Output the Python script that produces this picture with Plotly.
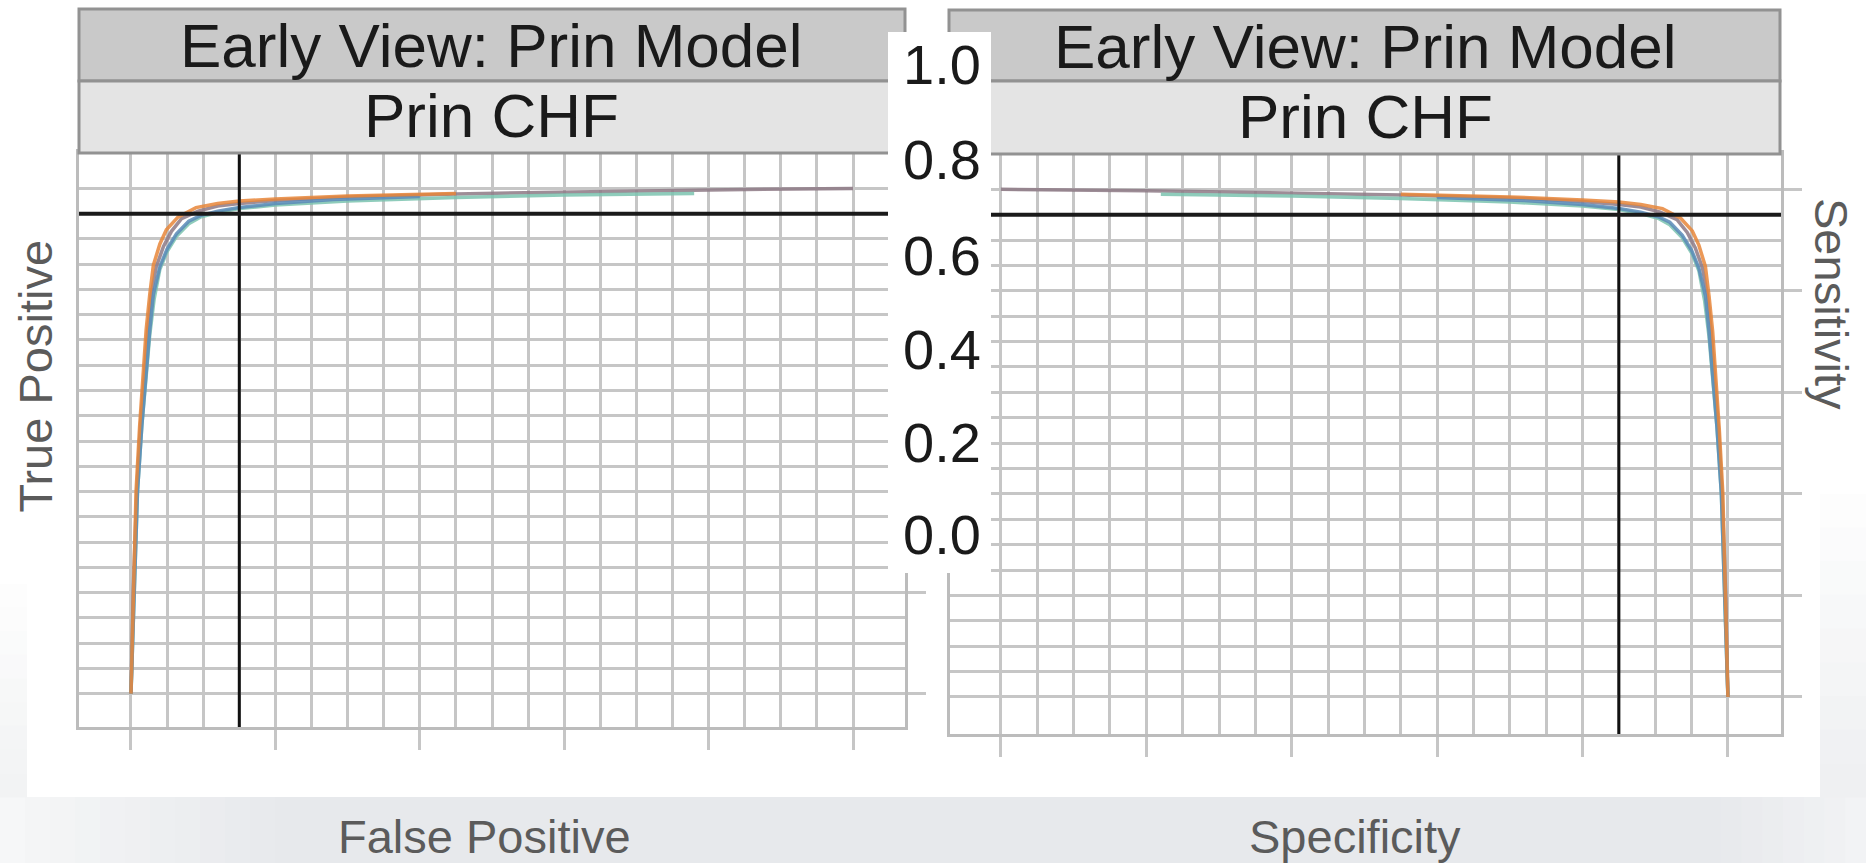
import plotly.graph_objects as go
import numpy as np

W, H = 1866, 863

# ---------------- data ----------------
strip_top = "Early View: Prin Model"
strip_bottom = "Prin CHF"
x_tick_vals = [0, 0.2, 0.4, 0.6, 0.8, 1.0]
y_tick_vals = [0, 0.2, 0.4, 0.6, 0.8, 1.0]
y_tick_labels = ["1.0", "0.8", "0.6", "0.4", "0.2", "0.0"]
cutoff_fpr = 0.15
cutoff_tpr = 0.95

model_names = ["Model D", "Model C", "Model B", "Model A"]
model_colors = ["#8e7a86", "#7cc4b0", "#5a8ab8", "#e8873a"]

fpr_d = [0, 0.003, 0.008, 0.013, 0.018, 0.023, 0.028, 0.035, 0.045, 0.056, 0.07, 0.093, 0.12, 0.15, 0.2, 0.3, 0.45, 0.6, 0.8, 1.0]
tpr_d = [0, 0.2, 0.4, 0.53, 0.62, 0.72, 0.79, 0.845, 0.885, 0.915, 0.94, 0.955, 0.965, 0.97, 0.976, 0.983, 0.989, 0.993, 0.997, 1.0]

fpr_c = [0, 0.004, 0.009, 0.015, 0.02, 0.026, 0.032, 0.04, 0.05, 0.063, 0.08, 0.096, 0.12, 0.15, 0.2, 0.3, 0.45, 0.6, 0.78]
tpr_c = [0, 0.2, 0.4, 0.53, 0.62, 0.71, 0.78, 0.84, 0.875, 0.905, 0.93, 0.943, 0.952, 0.96, 0.967, 0.975, 0.982, 0.987, 0.99]

fpr_b = [0, 0.004, 0.009, 0.015, 0.02, 0.026, 0.031, 0.04, 0.05, 0.063, 0.08, 0.096, 0.12, 0.15, 0.2, 0.28, 0.4]
tpr_b = [0, 0.2, 0.4, 0.53, 0.62, 0.72, 0.79, 0.845, 0.88, 0.91, 0.935, 0.946, 0.955, 0.962, 0.97, 0.978, 0.984]

fpr_a = [0, 0.003, 0.007, 0.012, 0.016, 0.021, 0.026, 0.031, 0.04, 0.049, 0.065, 0.09, 0.12, 0.15, 0.2, 0.3, 0.45]
tpr_a = [0, 0.2, 0.4, 0.53, 0.62, 0.72, 0.79, 0.848, 0.89, 0.918, 0.943, 0.962, 0.97, 0.975, 0.979, 0.985, 0.99]

curves = [(fpr_d, tpr_d), (fpr_c, tpr_c), (fpr_b, tpr_b), (fpr_a, tpr_a)]

# ---------------- helpers ----------------
def px(x):
    return x / W

def py(y):
    return 1 - y / H

GRID = "#c6c6c6"
minor_vals = [round(v * 0.05, 2) for v in range(21) if v % 4 != 0]

fig = go.Figure()

for (f, t), name, col in zip(curves, model_names, model_colors):
    f = np.array(f)
    t = np.array(t)
    fig.add_trace(go.Scatter(x=f, y=t, mode="lines", name=name, showlegend=False,
                             line=dict(color=col, width=3.5), opacity=0.85,
                             xaxis="x", yaxis="y"))
    fig.add_trace(go.Scatter(x=1 - f, y=t, mode="lines", name=name, showlegend=False,
                             line=dict(color=col, width=3.5), opacity=0.85,
                             xaxis="x2", yaxis="y2"))

def xax(domain, rng, anchor):
    return dict(domain=domain, range=rng, tickvals=x_tick_vals, showticklabels=False, anchor=anchor,
                ticks="outside", ticklen=20, tickwidth=3, tickcolor=GRID,
                showgrid=True, gridcolor=GRID, gridwidth=3,
                minor=dict(tickvals=minor_vals, showgrid=True, gridcolor=GRID, gridwidth=3, ticks=""),
                showline=True, linecolor="#bcbcbc", linewidth=3, mirror=True,
                zeroline=False, fixedrange=True)

def yax(domain, rng, anchor):
    return dict(domain=domain, range=rng, tickvals=y_tick_vals, showticklabels=False,
                side="right", anchor=anchor,
                ticks="outside", ticklen=18, tickwidth=3, tickcolor=GRID,
                showgrid=True, gridcolor=GRID, gridwidth=3,
                minor=dict(tickvals=minor_vals, showgrid=True, gridcolor=GRID, gridwidth=3, ticks=""),
                showline=True, linecolor="#bcbcbc", linewidth=3, mirror=True,
                zeroline=False, fixedrange=True)

shapes = []

# background bands (gradient-like)
def band(x0, x1, y0, y1, c0, c1, n, horizontal=True):
    c0 = np.array([int(c0[i:i + 2], 16) for i in (1, 3, 5)])
    c1 = np.array([int(c1[i:i + 2], 16) for i in (1, 3, 5)])
    for i in range(n):
        c = (c0 + (c1 - c0) * i / max(n - 1, 1)).astype(int)
        col = "#%02x%02x%02x" % tuple(c)
        if horizontal:
            a = x0 + (x1 - x0) * i / n
            b = x0 + (x1 - x0) * (i + 1) / n
            shapes.append(dict(type="rect", xref="paper", yref="paper", x0=px(a), x1=px(b) + 0.0005,
                               y0=py(y1), y1=py(y0), fillcolor=col, line=dict(width=0), layer="below"))
        else:
            a = y0 + (y1 - y0) * i / n
            b = y0 + (y1 - y0) * (i + 1) / n
            shapes.append(dict(type="rect", xref="paper", yref="paper", x0=px(x0), x1=px(x1),
                               y0=py(b) - 0.0005, y1=py(a), fillcolor=col, line=dict(width=0), layer="below"))

band(0, 300, 797, 863, "#f6f7f8", "#e7e9ec", 12)
band(300, 1700, 797, 863, "#e7e9ec", "#e7e9ec", 2)
band(1700, 1866, 797, 863, "#e7e9ec", "#f2f3f5", 8)
band(0, 27, 560, 797, "#ffffff", "#f2f3f4", 10, horizontal=False)
band(1820, 1866, 460, 797, "#ffffff", "#eff0f2", 10, horizontal=False)

# cutoff lines
for xa, ya, xv in (("x", "y", cutoff_fpr), ("x2", "y2", 1 - cutoff_fpr)):
    shapes.append(dict(type="line", xref=xa, yref=ya + " domain", x0=xv, x1=xv, y0=0, y1=1,
                       line=dict(color="#111111", width=3), layer="above"))
    shapes.append(dict(type="line", xref=xa + " domain", yref=ya, x0=0, x1=1, y0=cutoff_tpr, y1=cutoff_tpr,
                       line=dict(color="#1a1a1a", width=4), layer="above"))

annotations = []
SF = "Liberation Sans, Arial, sans-serif"

# strips
for (x0, x1, y0, ym, y1, cx) in ((79, 905, 9, 81, 153, 491), (949, 1780, 10, 81, 154, 1365)):
    shapes.append(dict(type="rect", xref="paper", yref="paper", x0=px(x0), x1=px(x1), y0=py(ym), y1=py(y0),
                       fillcolor="#c9c9c9", line=dict(color="#929292", width=3), layer="above"))
    shapes.append(dict(type="rect", xref="paper", yref="paper", x0=px(x0), x1=px(x1), y0=py(y1), y1=py(ym),
                       fillcolor="#e4e4e4", line=dict(color="#929292", width=3), layer="above"))
    annotations.append(dict(text=strip_top, x=px(cx), y=py((y0 + ym) / 2 + 1), xref="paper", yref="paper",
                            showarrow=False, xanchor="center", yanchor="middle",
                            font=dict(family=SF, size=62, color="#1a1a1a")))
    annotations.append(dict(text=strip_bottom, x=px(cx), y=py((ym + y1) / 2 - 1), xref="paper", yref="paper",
                            showarrow=False, xanchor="center", yanchor="middle",
                            font=dict(family=SF, size=62, color="#1a1a1a")))

# white label box with misplaced tick labels
shapes.append(dict(type="rect", xref="paper", yref="paper", x0=px(888), x1=px(991), y0=py(573), y1=py(32),
                   fillcolor="#ffffff", line=dict(width=0), layer="above"))
label_y = [64.5, 159, 255, 349.5, 442, 534.5]
for lab, yy in zip(y_tick_labels, label_y):
    annotations.append(dict(text=lab, x=px(942), y=py(yy), xref="paper", yref="paper", showarrow=False,
                            xanchor="center", yanchor="middle",
                            font=dict(family=SF, size=56, color="#1a1a1a")))

# axis titles
TC = "#5b5b5b"
annotations.append(dict(text="True Positive", x=px(35), y=py(376.5), xref="paper", yref="paper", showarrow=False,
                        textangle=-90, xanchor="center", yanchor="middle",
                        font=dict(family=SF, size=47, color=TC)))
annotations.append(dict(text="Sensitivity", x=px(1832), y=py(304), xref="paper", yref="paper", showarrow=False,
                        textangle=90, xanchor="center", yanchor="middle",
                        font=dict(family=SF, size=47, color=TC)))
annotations.append(dict(text="False Positive", x=px(485), y=py(836), xref="paper", yref="paper", showarrow=False,
                        xanchor="center", yanchor="middle",
                        font=dict(family=SF, size=47, color=TC)))
annotations.append(dict(text="Specificity", x=px(1355), y=py(836), xref="paper", yref="paper", showarrow=False,
                        xanchor="center", yanchor="middle",
                        font=dict(family=SF, size=47, color=TC)))

fig.update_layout(
    width=W, height=H, margin=dict(l=0, r=0, t=0, b=0),
    paper_bgcolor="#ffffff", plot_bgcolor="#ffffff",
    xaxis=xax([px(79), px(905)], [-0.072, 1.072], "y"),
    yaxis=yax([py(727), py(152)], [-0.066, 1.072], "x"),
    xaxis2=xax([px(950), px(1781)], [-0.070, 1.073], "y2"),
    yaxis2=yax([py(734), py(153)], [-0.073, 1.0715], "x2"),
    shapes=shapes, annotations=annotations, showlegend=False,
)

fig.write_html("out.html", config={"displayModeBar": False},
               post_script="document.body.style.margin='0px';document.body.style.overflow='hidden';")
